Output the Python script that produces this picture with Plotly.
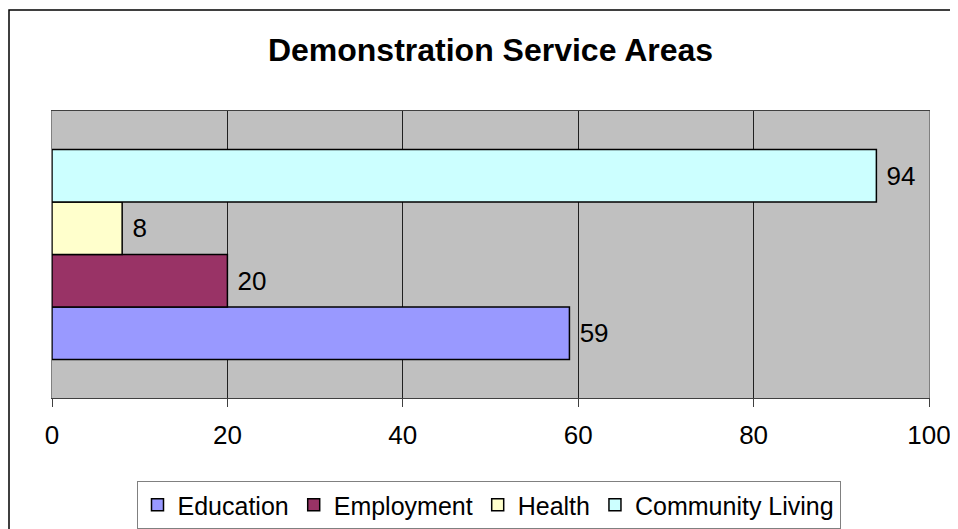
import plotly.graph_objects as go

category = ["Demonstration Service Areas"]
series_names = ["Education", "Employment", "Health", "Community Living"]
series_values = [59, 20, 8, 94]
series_colors = ["#9999FF", "#993366", "#FFFFCC", "#CCFFFF"]
x_ticks = [0, 20, 40, 60, 80, 100]

FONT = "Arial, Liberation Sans, sans-serif"
OFF = 8  # browser default body margin

fig = go.Figure()
for name, val, col in zip(series_names, series_values, series_colors):
    fig.add_trace(go.Bar(
        y=category, x=[val], name=name, orientation="h",
        marker=dict(color=col, line=dict(color="black", width=1.5)),
        text=[val], texttemplate=" %{x}", textposition="outside",
        textfont=dict(family=FONT, size=26, color="black"),
        cliponaxis=False,
    ))

W, H = 958 - OFF, 529 - OFF
L, R, T, B = 52 - OFF, 958 - 929, 111 - OFF, 529 - 398
pw, ph = W - L - R, H - T - B

fig.update_layout(
    width=W, height=H,
    margin=dict(l=L, r=R, t=T, b=B, pad=0, autoexpand=False),
    paper_bgcolor="white", plot_bgcolor="#C0C0C0",
    barmode="group", bargap=0.268, bargroupgap=0,
    font=dict(family=FONT, size=26, color="black"),
    title=dict(text="<b>Demonstration Service Areas</b>", x=(490.5 - OFF) / W, xanchor="center",
               y=1 - (49.5 - OFF) / H, yanchor="middle", font=dict(family=FONT, size=32, color="black")),
    showlegend=True,
    legend=dict(orientation="h", x=(488.5 - 52) / pw, xanchor="center", y=(398 - 481) / ph, yanchor="top",
                bgcolor="white", bordercolor="#808080", borderwidth=1,
                font=dict(family=FONT, size=25, color="black"),
                traceorder="normal", itemwidth=30),
    xaxis=dict(range=[0, 100], tickvals=x_ticks, ticktext=[str(v) for v in x_ticks],
               showgrid=True, gridcolor="#202020", gridwidth=1, zeroline=False,
               showline=True, linecolor="#404040", linewidth=1, mirror=True,
               ticks="outside", ticklen=8, tickcolor="#404040", tickfont=dict(size=26),
               ticklabelstandoff=6, fixedrange=True, automargin=False),
    yaxis=dict(showticklabels=False, showgrid=False, zeroline=False, automargin=False,
               showline=True, linecolor="#808080", linewidth=1, mirror=True, ticks=""),
    shapes=[dict(type="rect", xref="paper", yref="paper",
                 x0=(9 - 52) / pw, x1=(958 + 20 - 52) / pw,
                 y0=-(529 + 20 - 398) / ph, y1=1 + (111 - 10) / ph,
                 line=dict(color="black", width=1.5), fillcolor="rgba(0,0,0,0)", layer="below")],
)

fig.write_html("out.html")
